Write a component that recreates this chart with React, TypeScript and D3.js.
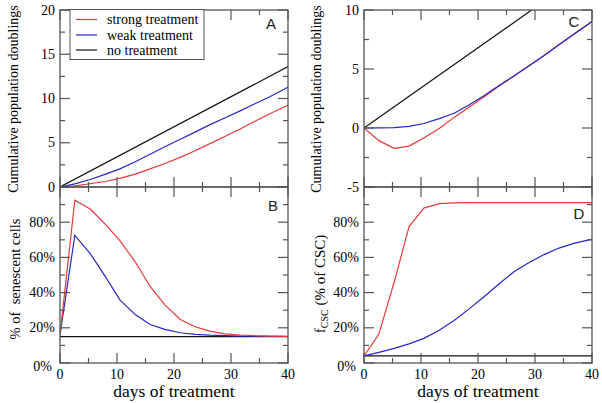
import * as d3 from "d3";

// simulation time points (days)
const days = [0, 2.6, 5.3, 7.9, 10.5, 13.2, 15.8, 18.4, 21.1, 23.7, 26.3, 28.9, 31.6, 34.2, 36.8, 39.5, 40];
const flatDays = [0, 40];

// panel A: cumulative population doublings
const doublingsNone = [0, 13.6];
const doublingsWeakA = [0, 0.35, 0.85, 1.42, 2.05, 2.85, 3.7, 4.55, 5.4, 6.2, 7.05, 7.8, 8.6, 9.4, 10.2, 11.1, 11.3];
const doublingsStrongA = [0, 0.12, 0.37, 0.62, 0.97, 1.45, 2.05, 2.65, 3.35, 4.1, 4.9, 5.7, 6.55, 7.42, 8.27, 9.1, 9.27];

// panel B: % senescent cells
const senescentStrong = [16, 92.5, 87.5, 79, 69.5, 57.5, 43.5, 33, 24.7, 20.6, 18.1, 16.6, 15.9, 15.5, 15.3, 15.1, 15.1];
const senescentWeak = [16, 72.5, 62.2, 49.4, 35.9, 27.5, 21.9, 19.1, 17.2, 16.3, 15.8, 15.5, 15.3, 15.2, 15.1, 15.1, 15];
const senescentNone = [15, 15];

// panel C: cumulative population doublings
const doublingsWeakC = [0, 0.01, 0.04, 0.14, 0.38, 0.8, 1.25, 1.95, 2.75, 3.6, 4.4, 5.25, 6.15, 7.05, 7.95, 8.85, 9.05];
const doublingsStrongC = [0, -1.07, -1.72, -1.53, -0.85, -0.05, 0.9, 1.75, 2.65, 3.55, 4.4, 5.25, 6.15, 7.05, 7.95, 8.85, 9.05];

// panel D: fraction of CSC
const cscStrong = [4, 16.3, 46, 77.5, 88, 90.5, 91, 91.1, 91.1, 91.1, 91.1, 91.1, 91.1, 91.1, 91.1, 91.1, 91.1];
const cscWeak = [4, 6, 8.3, 10.9, 14, 18.6, 24.2, 30.6, 37.8, 45, 51.8, 57, 61.6, 65.3, 68, 70, 70.3];
const cscNone = [4, 4];

const xMajor = [0, 10, 20, 30, 40];
const xMinor = [5, 15, 25, 35];
const doublingMajorA = [0, 5, 10, 15, 20];
const doublingMinorA = [2.5, 7.5, 12.5, 17.5];
const doublingMajorC = [-5, 0, 5, 10];
const doublingMinorC = [-2.5, 2.5, 7.5];
const pctMajor = [0, 20, 40, 60, 80, 100];
const pctMinor = [10, 30, 50, 70, 90];
const pctLabels = ["0%", "20%", "40%", "60%", "80%"];

const legendNames = ["strong treatment", "weak treatment", "no treatment"];

const RED = "#e8383a";
const BLUE = "#2626c8";
const BLACK = "#111";
const FRAME = "#555";
const serif = "\"Liberation Serif\", \"DejaVu Serif\", Tinos, \"Times New Roman\", Times, serif";
const sans = "\"Liberation Sans\", Arial, sans-serif";

type Series = { x: number[]; y: number[]; color: string };

type PanelProps = {
  id: string;
  x0: number; x1: number; y0: number; y1: number;
  yDomain: [number, number];
  yMajor: number[]; yMinor: number[];
  yLabels: string[];
  pct?: boolean;
  xLabels: boolean;
  letter: string; letterX: number; letterY: number;
  series: Series[];
};

function Panel(p: PanelProps) {
  const x = d3.scaleLinear().domain([0, 40]).range([p.x0, p.x1]);
  const y = d3.scaleLinear().domain(p.yDomain).range([p.y1, p.y0]);
  const line = (s: Series) =>
    d3.line<number>().x((_, i) => x(s.x[i])).y((d) => y(d))(s.y) || "";
  const tk = [] as any[];
  xMajor.forEach((v) => {
    tk.push(<line key={"xb" + v} x1={x(v)} x2={x(v)} y1={p.y1} y2={p.y1 - 10} />);
    tk.push(<line key={"xt" + v} x1={x(v)} x2={x(v)} y1={p.y0} y2={p.y0 + 10} />);
  });
  xMinor.forEach((v) => {
    tk.push(<line key={"xbm" + v} x1={x(v)} x2={x(v)} y1={p.y1} y2={p.y1 - 5} />);
    tk.push(<line key={"xtm" + v} x1={x(v)} x2={x(v)} y1={p.y0} y2={p.y0 + 5} />);
  });
  p.yMajor.forEach((v) => {
    tk.push(<line key={"yl" + v} x1={p.x0} x2={p.x0 + 10} y1={y(v)} y2={y(v)} />);
    tk.push(<line key={"yr" + v} x1={p.x1} x2={p.x1 - 10} y1={y(v)} y2={y(v)} />);
  });
  p.yMinor.forEach((v) => {
    tk.push(<line key={"ylm" + v} x1={p.x0} x2={p.x0 + 5} y1={y(v)} y2={y(v)} />);
    tk.push(<line key={"yrm" + v} x1={p.x1} x2={p.x1 - 5} y1={y(v)} y2={y(v)} />);
  });
  return (
    <g>
      <defs>
        <clipPath id={p.id}>
          <rect x={p.x0} y={p.y0} width={p.x1 - p.x0} height={p.y1 - p.y0} />
        </clipPath>
      </defs>
      <g clipPath={`url(#${p.id})`}>
        {p.series.map((s, i) => (
          <path key={i} d={line(s)} fill="none" stroke={s.color} strokeWidth={1.2} />
        ))}
      </g>
      <rect x={p.x0} y={p.y0} width={p.x1 - p.x0} height={p.y1 - p.y0} fill="none" stroke={FRAME} strokeWidth={1.3} />
      <g stroke={FRAME} strokeWidth={1.2}>{tk}</g>
      {p.yLabels.map((lab, i) => {
        const v = p.yMajor[i];
        const shift = p.pct && v === 0;
        return (
          <text key={lab} x={p.x0 - 5 - (shift ? 3 : 0)} y={y(v) + (shift ? 3 : 0)} textAnchor="end"
            dominantBaseline="central" fontFamily={serif} fontSize={14} fill="#000">{lab}</text>
        );
      })}
      {p.xLabels && xMajor.map((v) => (
        <text key={"xl" + v} x={x(v)} y={p.y1 + 11} textAnchor="middle" dominantBaseline="central"
          fontFamily={serif} fontSize={14} fill="#000">{v}</text>
      ))}
      <text x={p.letterX} y={p.letterY} textAnchor="middle" dominantBaseline="central"
        fontFamily={sans} fontSize={15} fill="#222">{p.letter}</text>
    </g>
  );
}

export default function App() {
  const top = 10, mid = 187, bot = 363;
  const L0 = 60, L1 = 288, R0 = 364, R1 = 592;
  const legendY = [19.5, 35, 50];
  const legendColors = [RED, BLUE, BLACK];
  return (
    <svg width={602} height={403} style={{ position: "absolute", left: 0, top: 0, background: "#fff" }}>
      <Panel id="cA" x0={L0} x1={L1} y0={top} y1={mid} yDomain={[0, 20]}
        yMajor={doublingMajorA} yMinor={doublingMinorA} yLabels={doublingMajorA.map(String)}
        xLabels={false} letter="A" letterX={271} letterY={23}
        series={[
          { x: flatDays, y: doublingsNone, color: BLACK },
          { x: days, y: doublingsWeakA, color: BLUE },
          { x: days, y: doublingsStrongA, color: RED },
        ]} />
      <Panel id="cB" x0={L0} x1={L1} y0={mid} y1={bot} yDomain={[0, 100]} pct
        yMajor={pctMajor} yMinor={pctMinor} yLabels={pctLabels}
        xLabels={true} letter="B" letterX={273} letterY={205}
        series={[
          { x: flatDays, y: senescentNone, color: BLACK },
          { x: days, y: senescentWeak, color: BLUE },
          { x: days, y: senescentStrong, color: RED },
        ]} />
      <Panel id="cC" x0={R0} x1={R1} y0={top} y1={mid} yDomain={[-5, 10]}
        yMajor={doublingMajorC} yMinor={doublingMinorC} yLabels={doublingMajorC.map(String)}
        xLabels={false} letter="C" letterX={574} letterY={21}
        series={[
          { x: flatDays, y: doublingsNone, color: BLACK },
          { x: days, y: doublingsStrongC, color: RED },
          { x: days, y: doublingsWeakC, color: BLUE },
        ]} />
      <Panel id="cD" x0={R0} x1={R1} y0={mid} y1={bot} yDomain={[0, 100]} pct
        yMajor={pctMajor} yMinor={pctMinor} yLabels={pctLabels}
        xLabels={true} letter="D" letterX={579} letterY={213}
        series={[
          { x: flatDays, y: cscNone, color: BLACK },
          { x: days, y: cscWeak, color: BLUE },
          { x: days, y: cscStrong, color: RED },
        ]} />

      {/* legend */}
      <rect x={70} y={9.5} width={134} height={50} fill="#fff" stroke={FRAME} strokeWidth={1} />
      {legendNames.map((n, i) => (
        <g key={n}>
          <line x1={76} x2={97} y1={legendY[i]} y2={legendY[i]} stroke={legendColors[i]} strokeWidth={1.2} />
          <text x={107} y={legendY[i]} dominantBaseline="central" fontFamily={serif} fontSize={14} fill="#000">{n}</text>
        </g>
      ))}

      {/* axis titles */}
      <text transform="translate(13,99) rotate(-90)" textAnchor="middle" dominantBaseline="central"
        fontFamily={serif} fontSize={14} fill="#000">Cumulative population doublings</text>
      <text transform="translate(15,279) rotate(-90)" textAnchor="middle" dominantBaseline="central"
        fontFamily={serif} fontSize={14.5} fill="#000" style={{ whiteSpace: "pre" }}>{"% of  senescent cells"}</text>
      <text transform="translate(316,99) rotate(-90)" textAnchor="middle" dominantBaseline="central"
        fontFamily={serif} fontSize={14} fill="#000">Cumulative population doublings</text>
      <text transform="translate(320,284) rotate(-90)" textAnchor="middle" dominantBaseline="central"
        fontFamily={serif} fontSize={15} fill="#000" style={{ whiteSpace: "pre" }}>
        f<tspan fontSize={10} dy={4}>CSC</tspan><tspan dy={-4}>{" (% of CSC)"}</tspan>
      </text>
      <text x={174} y={391} textAnchor="middle" dominantBaseline="central" fontFamily={serif} fontSize={17.5} fill="#000">days of treatment</text>
      <text x={478} y={391} textAnchor="middle" dominantBaseline="central" fontFamily={serif} fontSize={17.5} fill="#000">days of treatment</text>
    </svg>
  );
}
